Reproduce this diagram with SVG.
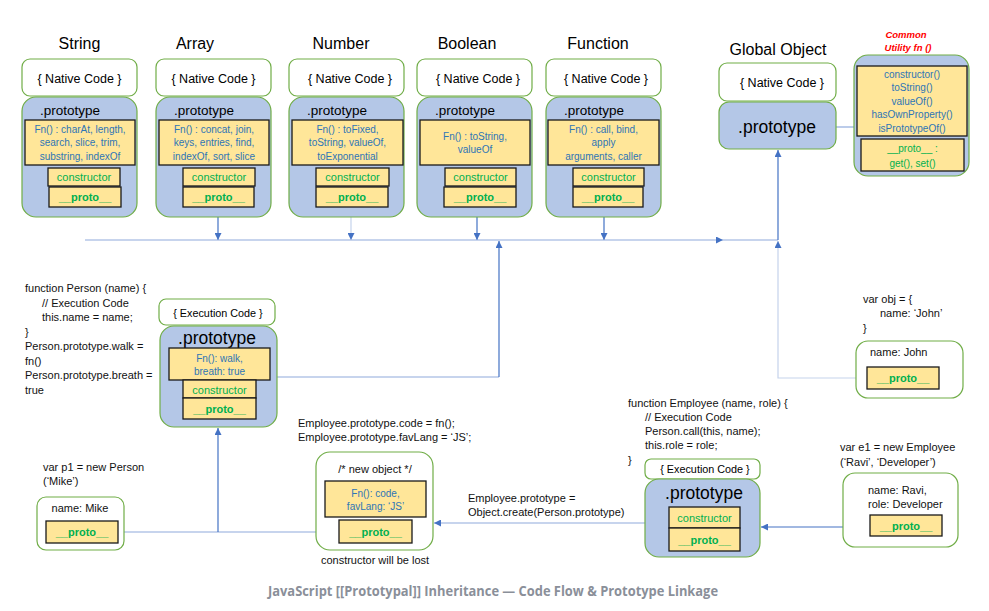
<svg xmlns="http://www.w3.org/2000/svg" width="989" height="611" viewBox="0 0 989 611">
<defs>
<style>
.nat{fill:#fff;stroke:#70AD47;stroke-width:1.2}
.pro{fill:#B4C7E7;stroke:#70AD47;stroke-width:1.2}
.yel{fill:#FFE699;stroke:#1a1a1a;stroke-width:1.3}
text{font-family:"Liberation Sans",Arial,sans-serif;fill:#000}
.title{font-size:16px;text-anchor:middle}
.nc{font-size:12.5px;text-anchor:middle}
.ps{font-size:13.5px}
.pb{font-size:17.5px;text-anchor:middle}
.fn{font-size:10px;fill:#2E75B6;text-anchor:middle}
.ctor{font-size:11px;fill:#00B050;text-anchor:middle}
.proto{font-size:11px;font-weight:bold;fill:#00B050;text-anchor:middle}
.code{font-size:11px;fill:#111}
.ec{font-size:10.8px;text-anchor:middle}
.dk{stroke:#4472C4;stroke-width:1.2;fill:none}
.lt{stroke:#8FAADC;stroke-width:1.2;fill:none}
.fa{stroke:#C5D3EC;stroke-width:1.2;fill:none}
</style>
<marker id="ah" viewBox="0 0 10 10" refX="10" refY="5" markerWidth="7" markerHeight="7" markerUnits="userSpaceOnUse" orient="auto">
<path d="M0,0 L10,5 L0,10 z" fill="#4472C4"/>
</marker>
</defs>
<rect width="989" height="611" fill="#fff"/>

<g id="connectors">
<line class="dk" x1="218" y1="207" x2="218" y2="240" marker-end="url(#ah)"/>
<line class="fa" x1="351" y1="207" x2="351" y2="240" marker-end="url(#ah)"/>
<line class="dk" x1="477" y1="207" x2="477" y2="240" marker-end="url(#ah)"/>
<line class="dk" x1="604" y1="207" x2="604" y2="240" marker-end="url(#ah)"/>
<line class="lt" x1="85" y1="240" x2="723" y2="240" marker-end="url(#ah)"/>
<line class="lt" x1="723" y1="240" x2="778" y2="240"/>
<line class="lt" x1="277" y1="377" x2="499" y2="377"/>
<line class="dk" x1="499" y1="377" x2="499" y2="241" marker-end="url(#ah)"/>
<line class="dk" x1="778" y1="240" x2="778" y2="150" marker-end="url(#ah)"/>
<path class="fa" d="M867,378 H778 V241" marker-end="url(#ah)"/>
<line class="lt" x1="118" y1="532" x2="339" y2="532"/>
<line class="dk" x1="218" y1="532" x2="218" y2="428" marker-end="url(#ah)"/>
<line class="lt" x1="645" y1="523" x2="434" y2="523" marker-end="url(#ah)"/>
<line class="dk" x1="870" y1="527" x2="761" y2="527" marker-end="url(#ah)"/>
<line class="lt" x1="836" y1="127" x2="854" y2="127"/>
</g>

<g id="string">
<text class="title" x="79.5" y="49">String</text>
<rect class="nat" x="22" y="59" width="115" height="37" rx="8"/>
<text class="nc" x="79.5" y="83">{ Native Code }</text>
<rect class="pro" x="22" y="97" width="115" height="120" rx="14"/>
<text class="ps" x="40" y="115">.prototype</text>
<rect class="yel" x="25" y="120" width="110" height="45"/>
<text class="fn" x="80" y="132.5">Fn() : charAt, length,</text>
<text class="fn" x="80" y="146">search, slice, trim,</text>
<text class="fn" x="80" y="159.5">substring, indexOf</text>
<rect class="yel" x="48" y="168" width="72" height="18"/>
<text class="ctor" x="84" y="181">constructor</text>
<rect class="yel" x="49" y="187" width="72" height="20"/>
<text class="proto" x="85" y="201">__proto__</text>
</g>

<g id="array">
<text class="title" x="195" y="49">Array</text>
<rect class="nat" x="156" y="59" width="115" height="37" rx="8"/>
<text class="nc" x="213.5" y="83">{ Native Code }</text>
<rect class="pro" x="156" y="97" width="115" height="120" rx="14"/>
<text class="ps" x="174" y="115">.prototype</text>
<rect class="yel" x="159" y="120" width="110" height="45"/>
<text class="fn" x="214" y="132.5">Fn() : concat, join,</text>
<text class="fn" x="214" y="146">keys, entries, find,</text>
<text class="fn" x="214" y="159.5">indexOf, sort, slice</text>
<rect class="yel" x="183" y="168" width="72" height="18"/>
<text class="ctor" x="219" y="181">constructor</text>
<rect class="yel" x="183" y="187" width="71" height="20"/>
<text class="proto" x="218.5" y="201">__proto__</text>
</g>

<g id="number">
<text class="title" x="341" y="49">Number</text>
<rect class="nat" x="289" y="59" width="115" height="37" rx="8"/>
<text class="nc" x="350" y="83">{ Native Code }</text>
<rect class="pro" x="289" y="97" width="115" height="120" rx="14"/>
<text class="ps" x="307" y="115">.prototype</text>
<rect class="yel" x="292" y="120" width="111" height="45"/>
<text class="fn" x="347.5" y="132.5">Fn() : toFixed,</text>
<text class="fn" x="347.5" y="146">toString, valueOf,</text>
<text class="fn" x="347.5" y="159.5">toExponential</text>
<rect class="yel" x="316" y="168" width="73" height="18"/>
<text class="ctor" x="352.5" y="181">constructor</text>
<rect class="yel" x="316" y="187" width="72" height="20"/>
<text class="proto" x="352" y="201">__proto__</text>
</g>

<g id="boolean">
<text class="title" x="467" y="49">Boolean</text>
<rect class="nat" x="417" y="59" width="115" height="37" rx="8"/>
<text class="nc" x="478" y="83">{ Native Code }</text>
<rect class="pro" x="417" y="97" width="115" height="120" rx="14"/>
<text class="ps" x="435" y="115">.prototype</text>
<rect class="yel" x="420" y="120" width="110" height="45"/>
<text class="fn" x="475" y="139.5">Fn() : toString,</text>
<text class="fn" x="475" y="153">valueOf</text>
<rect class="yel" x="445" y="168" width="71" height="18"/>
<text class="ctor" x="480.5" y="181">constructor</text>
<rect class="yel" x="444" y="187" width="72" height="20"/>
<text class="proto" x="480" y="201">__proto__</text>
</g>

<g id="function">
<text class="title" x="598" y="49">Function</text>
<rect class="nat" x="546" y="59" width="115" height="37" rx="8"/>
<text class="nc" x="606" y="83">{ Native Code }</text>
<rect class="pro" x="546" y="97" width="115" height="120" rx="14"/>
<text class="ps" x="564" y="115">.prototype</text>
<rect class="yel" x="548" y="120" width="111" height="45"/>
<text class="fn" x="603.5" y="132.5">Fn() : call, bind,</text>
<text class="fn" x="603.5" y="146">apply</text>
<text class="fn" x="603.5" y="159.5">arguments, caller</text>
<rect class="yel" x="573" y="168" width="71" height="18"/>
<text class="ctor" x="608.5" y="181">constructor</text>
<rect class="yel" x="573" y="187" width="70" height="20"/>
<text class="proto" x="608" y="201">__proto__</text>
</g>

<g id="global-object">
<text class="title" x="778" y="55">Global Object</text>
<rect class="nat" x="719" y="63" width="117" height="38" rx="8"/>
<text class="nc" x="782" y="87">{ Native Code }</text>
<rect class="pro" x="719" y="102" width="117" height="47" rx="10"/>
<text class="pb" x="777" y="133">.prototype</text>
</g>

<g id="common-utility">
<text x="906" y="38" style="font-size:9.5px;font-style:italic;font-weight:bold;fill:#FF0000;text-anchor:middle">Common</text>
<text x="908" y="51" style="font-size:9.5px;font-style:italic;font-weight:bold;fill:#FF0000;text-anchor:middle">Utility fn ()</text>
<rect class="pro" x="854" y="55" width="115" height="121" rx="14"/>
<rect class="yel" x="857" y="66" width="110" height="70"/>
<text class="fn" x="912" y="77.5">constructor()</text>
<text class="fn" x="912" y="91">toString()</text>
<text class="fn" x="912" y="104.5">valueOf()</text>
<text class="fn" x="912" y="118">hasOwnProperty()</text>
<text class="fn" x="912" y="131.5">isPrototypeOf()</text>
<rect class="yel" x="861" y="139" width="103" height="32"/>
<text class="fn" x="912.5" y="151.5" style="fill:#00B050">__proto__ :</text>
<text class="fn" x="912.5" y="166.5" style="fill:#00B050">get(), set()</text>
</g>

<g id="person">
<text class="code" x="25" y="292">function Person (name) {</text>
<text class="code" x="42" y="306.5">// Execution Code</text>
<text class="code" x="42" y="321">this.name = name;</text>
<text class="code" x="25" y="335.5">}</text>
<text class="code" x="25" y="350">Person.prototype.walk =</text>
<text class="code" x="25" y="364.5">fn()</text>
<text class="code" x="25" y="379">Person.prototype.breath =</text>
<text class="code" x="25" y="393.5">true</text>
<rect class="nat" x="159" y="299" width="116" height="26" rx="7"/>
<text class="ec" x="218" y="317">{ Execution Code }</text>
<rect class="pro" x="160" y="326" width="117" height="101" rx="14"/>
<text class="pb" x="217" y="343.5">.prototype</text>
<rect class="yel" x="169" y="348" width="101" height="32"/>
<text class="fn" x="219.5" y="361.5">Fn(): walk,</text>
<text class="fn" x="219.5" y="374.5">breath: true</text>
<rect class="yel" x="183" y="380" width="73" height="18"/>
<text class="ctor" x="219.5" y="393.5">constructor</text>
<rect class="yel" x="183" y="398" width="73" height="21"/>
<text class="proto" x="219.5" y="413">__proto__</text>
</g>

<g id="p1">
<text class="code" x="43" y="471">var p1 = new Person</text>
<text class="code" x="43" y="485">(‘Mike’)</text>
<rect class="nat" x="37" y="497" width="87" height="53" rx="9"/>
<text class="code" x="80" y="512" style="text-anchor:middle">name: Mike</text>
<rect class="yel" x="46" y="521" width="72" height="22"/>
<text class="proto" x="82" y="536">__proto__</text>
</g>

<g id="new-object">
<text class="code" x="298" y="427">Employee.prototype.code = fn();</text>
<text class="code" x="298" y="441">Employee.prototype.favLang = ‘JS’;</text>
<rect class="nat" x="316" y="452" width="117" height="98" rx="14"/>
<text class="code" x="375" y="473" style="text-anchor:middle">/* new object */</text>
<rect class="yel" x="325" y="481" width="101" height="36"/>
<text class="fn" x="375.5" y="497">Fn(): code,</text>
<text class="fn" x="375.5" y="510">favLang: ‘JS’</text>
<rect class="yel" x="339" y="520" width="73" height="23"/>
<text class="proto" x="375.5" y="535.5">__proto__</text>
<text class="code" x="375" y="564" style="text-anchor:middle">constructor will be lost</text>
</g>

<g id="employee">
<text class="code" x="628" y="407">function Employee (name, role) {</text>
<text class="code" x="645" y="421">// Execution Code</text>
<text class="code" x="645" y="435">Person.call(this, name);</text>
<text class="code" x="645" y="449">this.role = role;</text>
<text class="code" x="628" y="464">}</text>
<text class="code" x="468" y="502">Employee.prototype =</text>
<text class="code" x="468" y="516">Object.create(Person.prototype)</text>
<rect class="nat" x="645" y="459" width="115" height="20" rx="6"/>
<text class="ec" x="705" y="472.5">{ Execution Code }</text>
<rect class="pro" x="645" y="479" width="115" height="78" rx="14"/>
<text class="pb" x="704" y="499">.prototype</text>
<rect class="yel" x="669" y="507" width="71" height="21"/>
<text class="ctor" x="704.5" y="521.5">constructor</text>
<rect class="yel" x="669" y="528" width="71" height="23"/>
<text class="proto" x="704.5" y="543.5">__proto__</text>
</g>

<g id="e1">
<text class="code" x="840" y="451">var e1 = new Employee</text>
<text class="code" x="840" y="466">(‘Ravi’, ‘Developer’)</text>
<rect class="nat" x="843" y="473" width="115" height="74" rx="12"/>
<text class="code" x="868" y="494">name: Ravi,</text>
<text class="code" x="868" y="508">role: Developer</text>
<rect class="yel" x="870" y="515" width="72" height="21"/>
<text class="proto" x="906" y="529.5">__proto__</text>
</g>

<g id="obj">
<text class="code" x="863" y="303">var obj = {</text>
<text class="code" x="880" y="317">name: ‘John’</text>
<text class="code" x="863" y="332">}</text>
<rect class="nat" x="856" y="341" width="107" height="57" rx="12"/>
<text class="code" x="870" y="356">name: John</text>
<rect class="yel" x="867" y="367" width="72" height="22"/>
<text class="proto" x="903" y="382">__proto__</text>
</g>

<text x="493" y="596" textLength="450" lengthAdjust="spacingAndGlyphs" style="font-family:'Open Sans','Liberation Sans',sans-serif;font-size:13.5px;font-weight:bold;fill:#8A8F99;text-anchor:middle">JavaScript [[Prototypal]] Inheritance — Code Flow &amp; Prototype Linkage</text>
</svg>
